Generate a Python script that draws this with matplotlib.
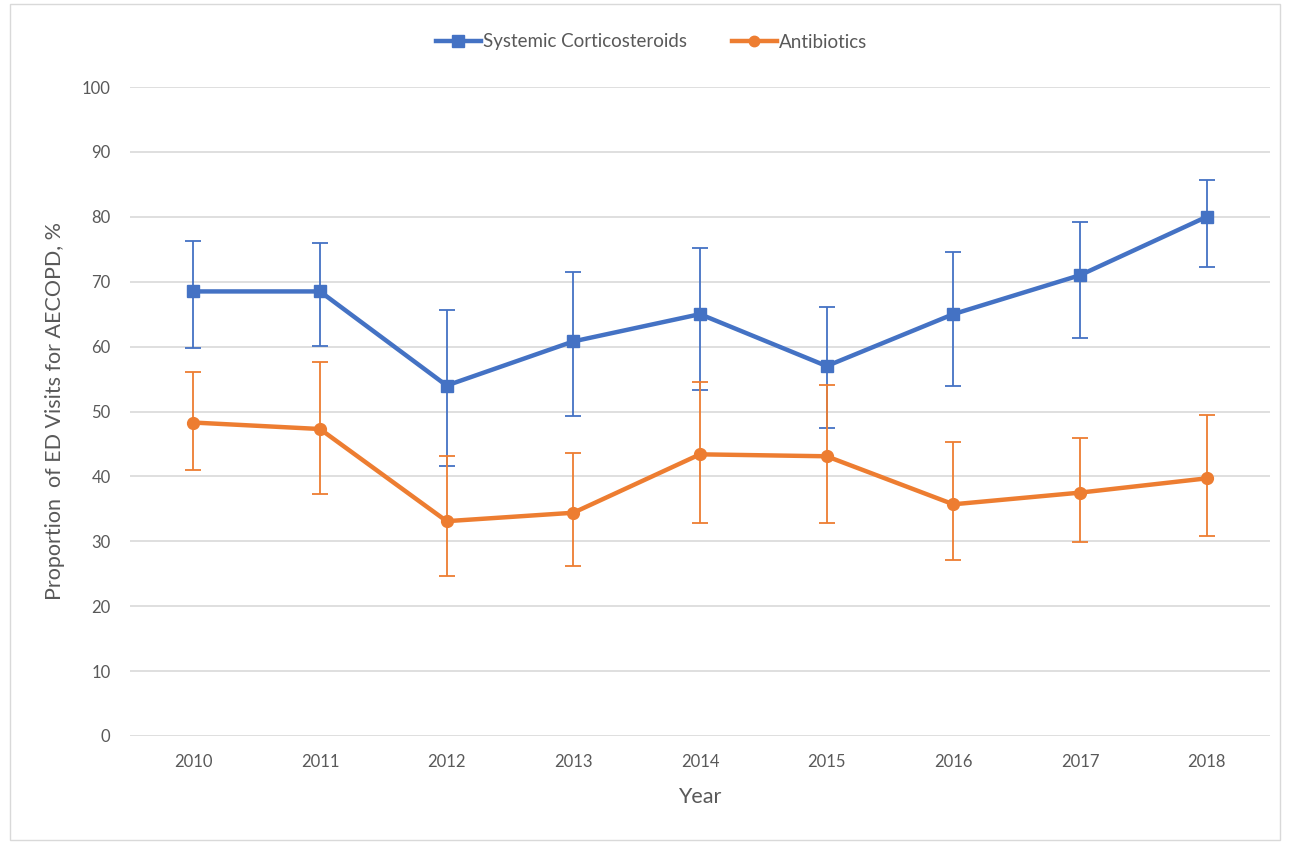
import matplotlib.pyplot as plt
from matplotlib.lines import Line2D
from matplotlib.patches import Rectangle

plt.rcParams['font.family'] = ['Lato', 'DejaVu Sans']

years = ['2010', '2011', '2012', '2013', '2014', '2015', '2016', '2017', '2018']

steroids = [68.5, 68.5, 54.0, 60.8, 65.0, 57.0, 65.0, 71.0, 80.0]
steroids_hi = [76.3, 76.0, 65.6, 71.5, 75.2, 66.1, 74.6, 79.2, 85.7]
steroids_lo = [59.8, 60.1, 41.6, 49.3, 53.3, 47.5, 53.9, 61.3, 72.3]

antibiotics = [48.3, 47.3, 33.1, 34.4, 43.4, 43.1, 35.7, 37.5, 39.7]
antibiotics_hi = [56.1, 57.6, 43.1, 43.6, 54.5, 54.1, 45.3, 45.9, 49.5]
antibiotics_lo = [41.0, 37.3, 24.7, 26.2, 32.8, 32.8, 27.1, 29.9, 30.8]

blue = '#4472C4'
orange = '#ED7D31'
grey = '#595959'

fig = plt.figure(figsize=(12.9, 8.44), dpi=100)
ax = fig.add_axes([130 / 1290, 1 - 736 / 844, 1140 / 1290, 649 / 844])

x = list(range(len(years)))

def err(vals, lo, hi):
    return [[v - l for v, l in zip(vals, lo)], [h - v for v, h in zip(vals, hi)]]

ax.errorbar(x, steroids, yerr=err(steroids, steroids_lo, steroids_hi),
            color=blue, lw=3.2, marker='s', ms=9, elinewidth=1.3,
            capsize=5.5, capthick=1.3, zorder=3)
ax.errorbar(x, antibiotics, yerr=err(antibiotics, antibiotics_lo, antibiotics_hi),
            color=orange, lw=3.2, marker='o', ms=8.5, elinewidth=1.3,
            capsize=5.5, capthick=1.3, zorder=3)

ax.set_xlim(-0.5, len(years) - 0.5)
ax.set_ylim(0, 100)
ax.set_yticks(range(0, 101, 10))
ax.set_xticks(x)
ax.set_xticklabels(years)
ax.grid(axis='y', color='#d9d9d9', lw=1.2)
ax.set_axisbelow(True)
for s in ax.spines.values():
    s.set_visible(False)
ax.tick_params(length=0, colors=grey, labelsize=12)
ax.tick_params(axis='x', pad=13)
ax.tick_params(axis='y', pad=14)

ax.set_xlabel('Year', fontsize=15.5, color=grey, labelpad=12)
ax.set_ylabel('Proportion  of ED Visits for AECOPD, %', fontsize=15.5, color=grey, labelpad=12)

handles = [Line2D([], [], color=blue, lw=3.2, marker='s', ms=8),
           Line2D([], [], color=orange, lw=3.2, marker='o', ms=7.5)]
leg = fig.legend(handles, ['Systemic Corticosteroids', 'Antibiotics'],
                 loc='center', bbox_to_anchor=(0.505, 1 - 42 / 844), ncol=2,
                 frameon=False, fontsize=13.5, handlelength=2.4, columnspacing=2.4,
                 handletextpad=0.1)
for t in leg.get_texts():
    t.set_color(grey)

fig.patches.append(Rectangle((10 / 1290, 4 / 844), 1270 / 1290, 836 / 844,
                             transform=fig.transFigure, fill=False,
                             edgecolor='#d9d9d9', lw=1))

fig.savefig('out.png', dpi=100)
